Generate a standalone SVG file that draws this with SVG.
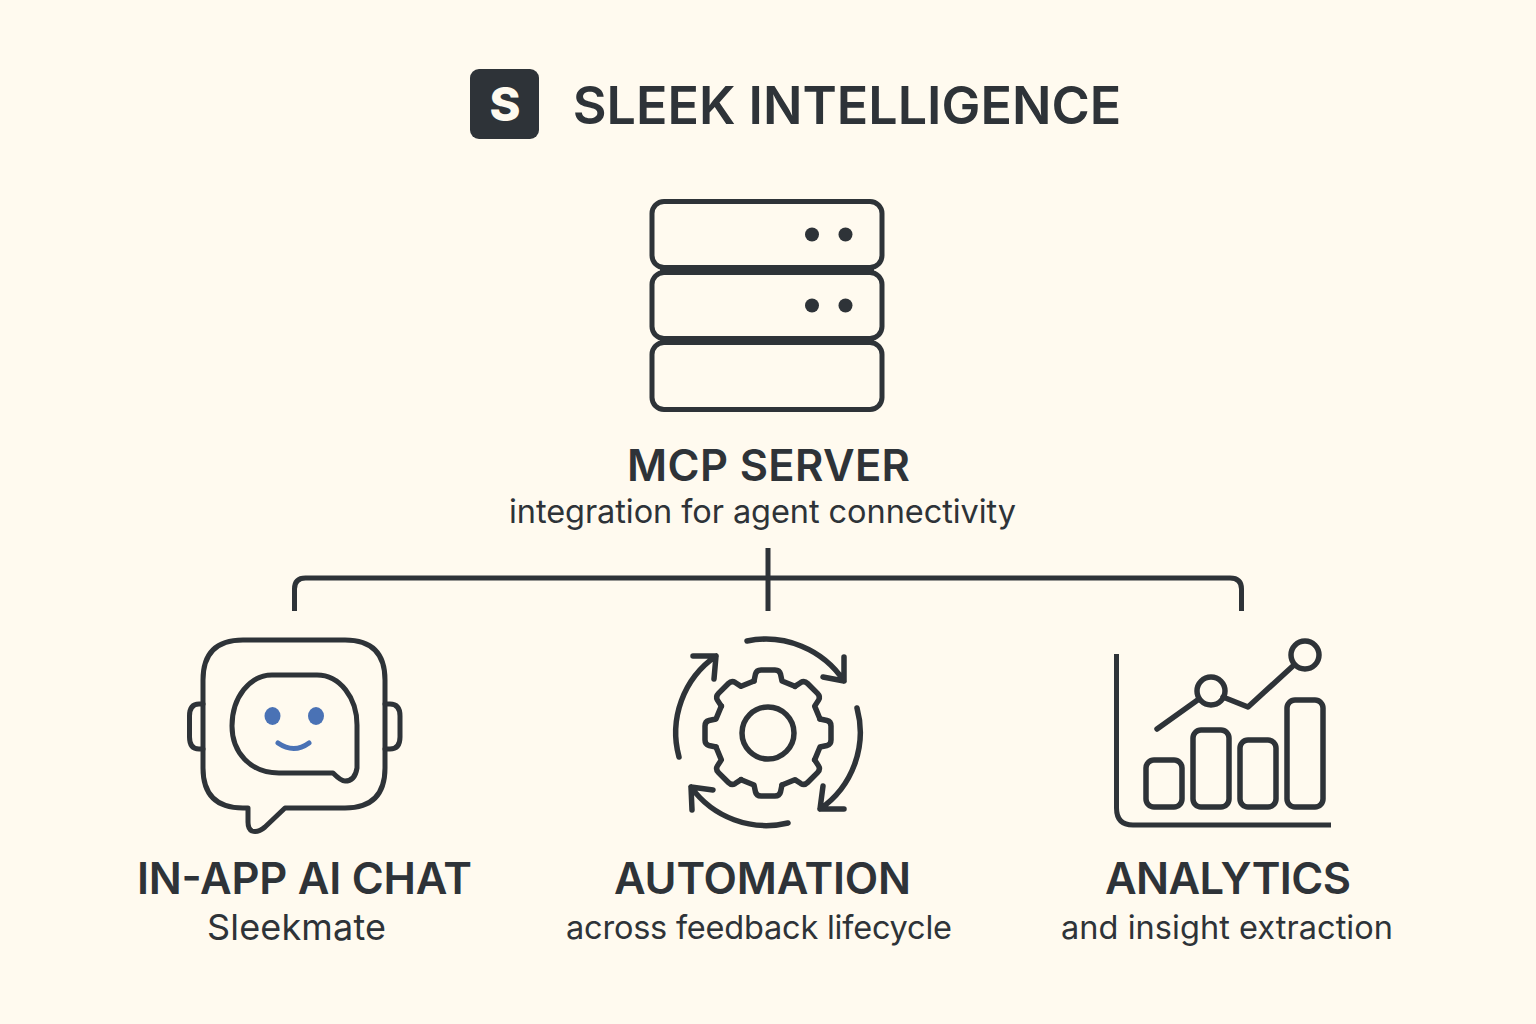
<svg xmlns="http://www.w3.org/2000/svg" xmlns:xlink="http://www.w3.org/1999/xlink" width="1536" height="1024" viewBox="0 0 1536 1024">
<style>
.s{fill:none;stroke:#2e3338;stroke-width:5;stroke-linecap:round;stroke-linejoin:round}
.w{stroke-width:5.500}
.d{fill:#2e3338}
text{font-family:"Inter","Liberation Sans",sans-serif;fill:#2e3338;text-anchor:middle}
.t{font-size:43.500px;font-weight:600}
.u{font-size:32.500px;font-weight:400}
</style>
<defs>
<path id="tooth" d="M-14,-52 L-12.5,-59 Q-11.5,-63 -7,-63 L7,-63 Q11.5,-63 12.5,-59 L14,-52 L26.87,-46.67"/>
</defs>
<rect width="1536" height="1024" fill="#fffaef"/>
<g id="title">
<rect x="470" y="69" width="69" height="70" rx="9" class="d"/>
<text x="505" y="121" font-size="47" font-weight="800" style="fill:#fffaef">S</text>
<text x="847" y="124" font-size="52" font-weight="600">SLEEK INTELLIGENCE</text>
</g>
<g id="mcp-server">
<rect x="652" y="201.500" width="230" height="66" rx="12" class="s"/>
<rect x="652" y="272.500" width="230" height="66" rx="12" class="s"/>
<rect x="652" y="342.500" width="230" height="67" rx="12" class="s"/>
<path class="d" d="M660,265 H874 V275 H660 Z M660,336 H874 V345 H660 Z"/>
<circle cx="812" cy="234.500" r="7" class="d"/><circle cx="845.500" cy="234.500" r="7" class="d"/>
<circle cx="812" cy="305.500" r="7" class="d"/><circle cx="845.500" cy="305.500" r="7" class="d"/>
<text x="768.500" y="481" class="t" textLength="283">MCP SERVER</text>
<text x="762.500" y="523" class="u" textLength="507">integration for agent connectivity</text>
</g>
<g id="connectors">
<path class="s" style="stroke-linecap:butt" d="M294.500,611 V589 Q294.500,578 305.500,578 H1230 Q1241.500,578 1241.500,589 V611"/>
<path class="s" style="stroke-linecap:butt" d="M768,548 V611"/>
</g>
<g id="in-app-ai-chat">
<path class="s" d="M243,640 H345 Q385,640 385,680 V768 Q385,808 345,808 H285 L265,827 Q258,833 252,831 Q248,829 248,822 V808 H243 Q203,808 203,768 V680 Q203,640 243,640 Z"/>
<path class="s" d="M203,704 H199 Q189.500,704 189.500,716 V737 Q189.500,749 199,749 H203 M385,704 H390 Q400,704 400,716 V737 Q400,749 390,749 H385"/>
<path class="s" d="M272,675 H317 C340,675 357,698 357,725 V768 Q355,781 345,781 Q341,781 333,773 H279 C250,773 232,752 232,726 C232,697 250,675 272,675 Z"/>
<ellipse cx="272.500" cy="716" rx="8" ry="9" fill="#4a72b5"/>
<ellipse cx="316" cy="716" rx="8" ry="9" fill="#4a72b5"/>
<path d="M278,743 Q294,754 309,743" fill="none" stroke="#4a72b5" stroke-width="5" stroke-linecap="round"/>
<text x="304.500" y="894" class="t" textLength="335">IN-APP AI CHAT</text>
<text x="296.500" y="940" class="u" style="font-size:36px" textLength="179">Sleekmate</text>
</g>
<g id="automation">
<g class="s w" transform="translate(768,733)">
<use xlink:href="#tooth" href="#tooth"/>
<use xlink:href="#tooth" href="#tooth" transform="rotate(45)"/>
<use xlink:href="#tooth" href="#tooth" transform="rotate(90)"/>
<use xlink:href="#tooth" href="#tooth" transform="rotate(135)"/>
<use xlink:href="#tooth" href="#tooth" transform="rotate(180)"/>
<use xlink:href="#tooth" href="#tooth" transform="rotate(225)"/>
<use xlink:href="#tooth" href="#tooth" transform="rotate(270)"/>
<use xlink:href="#tooth" href="#tooth" transform="rotate(315)"/>
<circle r="26"/>
</g>
<path class="s w" d="M747,641 A94,94 0 0 1 844,681 M844,657 V681 L823,677"/>
<path class="s w" d="M857,708 A93,93 0 0 1 820,809 M823,786 L820,809 H844"/>
<path class="s w" d="M788,823 A93,93 0 0 1 691,787 M713,790 L691,787 L692,810"/>
<path class="s w" d="M679,757 A93,93 0 0 1 716,656 M693,656 H716 L714,679"/>
<text x="762.500" y="894" class="t" textLength="297">AUTOMATION</text>
<text x="759" y="939" class="u" textLength="386">across feedback lifecycle</text>
</g>
<g id="analytics">
<path class="s" style="stroke-linecap:butt" d="M1116.500,654 V808 Q1116.500,825 1133,825 H1331"/>
<rect x="1146" y="760" width="36" height="47" rx="8" class="s w"/>
<rect x="1193" y="730" width="36" height="77" rx="8" class="s w"/>
<rect x="1240" y="740" width="36" height="67" rx="8" class="s w"/>
<rect x="1287" y="700" width="36" height="107" rx="8" class="s w"/>
<path class="s w" d="M1157,729 L1199,699 M1223,697 L1248,707 L1294,665"/>
<circle cx="1211" cy="691" r="14" class="s w"/>
<circle cx="1305" cy="655" r="14" class="s w"/>
<text x="1228" y="894" class="t" textLength="246">ANALYTICS</text>
<text x="1227" y="939" class="u" textLength="332">and insight extraction</text>
</g>
</svg>
